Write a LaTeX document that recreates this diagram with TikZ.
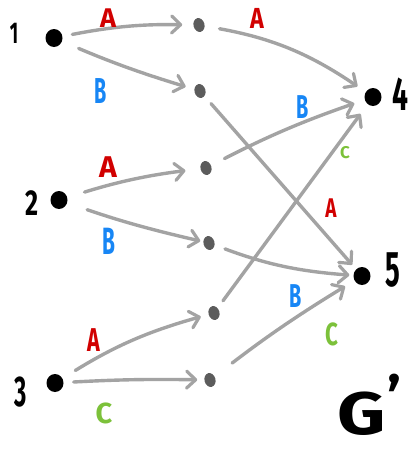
\documentclass[tikz,border=0pt]{standalone}
\usepackage{fontspec}
\setmainfont{Fira Sans}
\usetikzlibrary{arrows.meta,shapes.geometric}
\definecolor{edgegray}{HTML}{A3A3A3}
\definecolor{dotgray}{HTML}{5C5C5C}
\definecolor{labred}{HTML}{D10000}
\definecolor{labblue}{HTML}{1786F5}
\definecolor{labgreen}{HTML}{7CC13A}
\begin{document}
\begin{tikzpicture}[x=1pt,y=1pt,
  bigdot/.style={ellipse,fill=black,inner sep=0pt,minimum width=17pt,minimum height=18pt},
  middot/.style={ellipse,fill=dotgray,inner sep=0pt,minimum width=11pt,minimum height=14pt,rotate=15},
  flow/.style={draw=edgegray,line width=3.4pt,line cap=round,
    -{Straight Barb[round,length=9pt,width=17pt,line width=3.2pt]}},
  digit/.style={font=\bfseries\fontsize{#1}{#1}\selectfont,inner sep=0pt},
  tag/.style={font=\bfseries\fontsize{#1}{#1}\selectfont,inner sep=0pt}
]
\useasboundingbox (0,0) rectangle (409,-451);

% sources
\node[bigdot] (s1) at (54,-38) {};
\node[bigdot] (s2) at (59,-200) {};
\node[bigdot] (s3) at (55,-383) {};
% intermediate states
\node[middot] (m1) at (199,-25) {};
\node[middot] (m2) at (200,-91) {};
\node[middot] (m3) at (206,-168) {};
\node[middot] (m4) at (209,-243) {};
\node[middot] (m5) at (214,-313) {};
\node[middot] (m6) at (210,-380) {};
% targets
\node[bigdot] (t4) at (373,-97) {};
\node[bigdot] (t5) at (362,-276) {};

% numbers
\node[digit=30] (n1) at (14,-33) {\scalebox{0.6}[1]{1}};
\node[digit=36] (n2) at (32,-203) {\scalebox{0.7}[1]{2}};
\node[digit=43] (n3) at (21,-392) {\scalebox{0.55}[1]{3}};
\node[digit=47] (n4) at (400,-94) {\scalebox{0.6}[1]{4}};
\node[digit=50] (n5) at (393,-270) {\scalebox{0.55}[1]{5}};

% first layer
\draw[flow,shorten <=10pt,shorten >=11pt] (s1) to[bend left=6] (m1);
\draw[flow,shorten <=18pt,shorten >=9pt] (s1) to[bend right=3] (m2);
\draw[flow,shorten <=18pt,shorten >=15pt] (s2) to[bend left=5] (m3);
\draw[flow,shorten <=21pt,shorten >=3pt] (s2) to[bend right=3] (m4);
\draw[flow,shorten <=15pt,shorten >=8pt] (s3) to[bend left=8] (m5);
\draw[flow,shorten <=10pt,shorten >=7pt] (s3) to[bend left=2] (m6);
% second layer
\draw[flow,shorten <=15pt,shorten >=10pt] (m1) to[bend left=12] (t4);
\draw[flow,shorten <=15pt,shorten >=11pt] (m3) to[bend left=4] (t4);
\draw[flow,shorten <=9pt,shorten >=12pt] (m5) to (t4);
\draw[flow,shorten <=10pt,shorten >=6pt] (m2) to (t5);
\draw[flow,shorten <=11pt,shorten >=4pt] (m4) to[bend right=8] (t5);
\draw[flow,shorten <=22pt,shorten >=11pt] (m6) to[bend left=3] (t5);

% edge labels
\node[tag=27,labred] (la1) at (108,-18) {A};
\node[tag=36,labblue] (lb1) at (101,-91) {\scalebox{0.55}[1]{B}};
\node[tag=30,labred] (la2) at (108,-167) {A};
\node[tag=38,labblue] (lb2) at (109,-241) {\scalebox{0.55}[1]{B}};
\node[tag=33,labred] (la3) at (94,-340) {\scalebox{0.65}[1]{A}};
\node[tag=29,labgreen] (lc3) at (104,-413) {C};
\node[tag=29,labred] (la4) at (257,-18) {\scalebox{0.8}[1]{A}};
\node[tag=33,labblue] (lb4) at (303,-107) {\scalebox{0.6}[1]{B}};
\node[tag=17,labgreen] (lc4) at (345,-153) {C};
\node[tag=27,labred] (la5) at (331,-208) {\scalebox{0.7}[1]{A}};
\node[tag=33,labblue] (lb5) at (296,-296) {\scalebox{0.6}[1]{B}};
\node[tag=32,labgreen] (lc5) at (332,-334) {\scalebox{0.7}[1]{C}};

% graph name
\node[tag=60] (gname) at (362,-414) {\scalebox{1.25}[1]{G}};
\node[tag=58] (gprime) at (395,-396) {'};
\end{tikzpicture}
\end{document}
